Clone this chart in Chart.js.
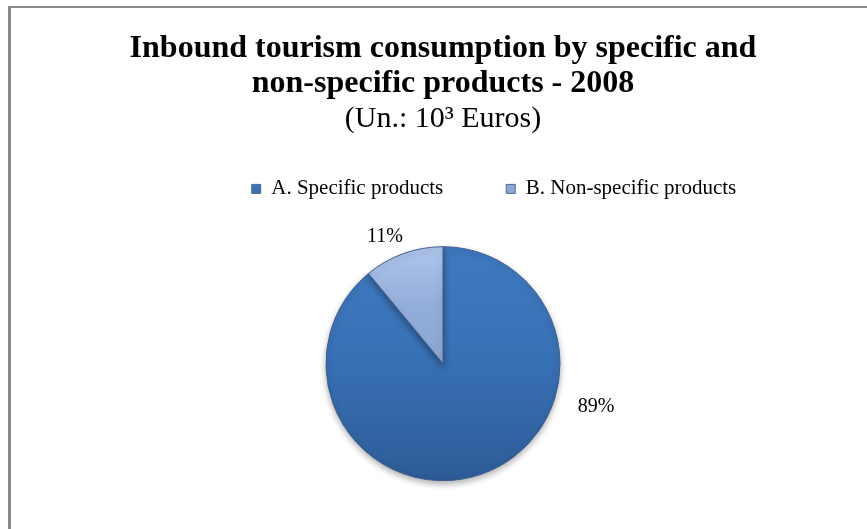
<!DOCTYPE html>
<html>
<head>
<meta charset="utf-8">
<script src="https://cdn.jsdelivr.net/npm/chart.js@4"></script>
<style>
  html, body { margin: 0; padding: 0; background: #ffffff; }
  #wrap { position: relative; width: 867px; height: 529px; overflow: hidden; }
  #frame { position: absolute; left: 8px; top: 6px; width: 900px; height: 600px;
           border-left: 3px solid #8a8a8a; border-top: 2px solid #8a8a8a; box-sizing: border-box; }
  #c { position: absolute; left: 0; top: 0; }
</style>
</head>
<body>
<div id="wrap">
  <div id="frame"></div>
  <canvas id="c" width="867" height="529"></canvas>
</div>
<script>
// ---- data ----
const categories = ['A. Specific products', 'B. Non-specific products'];
const shares = [89, 11];            // percent of inbound tourism consumption
const titleLines = ['Inbound tourism consumption by specific and', 'non-specific products - 2008'];
const subtitleText = '(Un.: 10\u00B3 Euros)';

const SERIF = '"Liberation Serif", "Times New Roman", serif';
const PIE_R = 117;

function sliceGradient(ctx, chart, i) {
  const a = chart.chartArea;
  if (!a) return i === 0 ? '#3A70B4' : '#8EA8D5';
  const cy = (a.top + a.bottom) / 2;
  const g = ctx.createLinearGradient(0, cy - PIE_R, 0, cy + PIE_R);
  if (i === 0) {
    g.addColorStop(0, '#3F79C0');
    g.addColorStop(0.5, '#3870B4');
    g.addColorStop(1, '#2D5B97');
  } else {
    g.addColorStop(0, '#AFC6EC');
    g.addColorStop(0.25, '#93ADDA');
    g.addColorStop(1, '#7F98C6');
  }
  return g;
}

const shiftPlugin = {
  id: 'shiftLegend',
  afterLayout(chart) {
    const lg = chart.legend;
    if (lg) { lg.left += 51; lg.right += 51; }
  }
};

const shadowPlugin = {
  id: 'pieShadow',
  beforeDatasetsDraw(chart) {
    const ctx = chart.ctx;
    ctx.save();
    ctx.shadowColor = 'rgba(0,0,0,0.30)';
    ctx.shadowBlur = 6;
    ctx.shadowOffsetY = 3;
  },
  afterDatasetsDraw(chart) {
    chart.ctx.restore();
  }
};

const labelPlugin = {
  id: 'pctLabels',
  afterDraw(chart, args, opts) {
    const ctx = chart.ctx;
    const meta = chart.getDatasetMeta(0);
    ctx.save();
    ctx.font = '20px ' + SERIF;
    ctx.fillStyle = '#000';
    ctx.textAlign = 'center';
    ctx.textBaseline = 'middle';
    meta.data.forEach((arc, i) => {
      const p = arc.getProps(['x', 'y', 'outerRadius'], true);
      const ang = opts.angles[i] * Math.PI / 180;
      const d = p.outerRadius + opts.gaps[i];
      ctx.fillText(chart.data.datasets[0].data[i] + '%', p.x + Math.cos(ang) * d, p.y + Math.sin(ang) * d);
    });
    ctx.restore();
  }
};

new Chart(document.getElementById('c'), {
  type: 'pie',
  data: {
    labels: categories,
    datasets: [{
      data: shares,
      radius: PIE_R,
      backgroundColor: (c) => sliceGradient(c.chart.ctx, c.chart, c.dataIndex),
      borderColor: '#3E5F8C',
      borderWidth: 1
    }]
  },
  options: {
    responsive: false,
    animation: false,
    events: [],
    layout: { padding: { left: 19, right: 0, top: 0, bottom: 11 } },
    plugins: {
      title: {
        display: true,
        text: titleLines,
        color: '#000',
        font: { family: SERIF, size: 32, weight: 'bold', lineHeight: 1.1 },
        padding: { top: 31, bottom: 0 }
      },
      subtitle: {
        display: true,
        text: subtitleText,
        color: '#000',
        font: { family: SERIF, size: 30, weight: 'normal', lineHeight: 1.2 },
        padding: { top: 0, bottom: -22 }
      },
      legend: {
        display: true,
        position: 'top',
        labels: {
          color: '#000',
          font: { family: SERIF, size: 21 },
          boxWidth: 9,
          boxHeight: 9,
          padding: 63,
          generateLabels(chart) {
            const fills = ['#3A70B4', '#8EA8D5'];
            return chart.data.labels.map((t, i) => ({
              text: t, fillStyle: fills[i], strokeStyle: '#4A6A96', lineWidth: 1,
              hidden: false, index: i, fontColor: '#000'
            }));
          }
        }
      },
      tooltip: { enabled: false },
      pctLabels: { angles: [15.7, -114.5], gaps: [42, 23] }
    }
  },
  plugins: [shiftPlugin, shadowPlugin, labelPlugin]
});
</script>
</body>
</html>
